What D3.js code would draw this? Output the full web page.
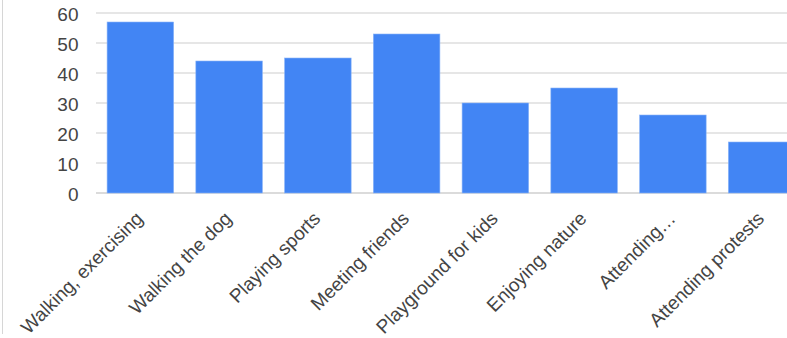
<!DOCTYPE html>
<html>
<head>
<meta charset="utf-8">
<script src="https://cdn.jsdelivr.net/npm/d3@7"></script>
<style>
  html, body { margin: 0; padding: 0; background: #fff; }
  svg { display: block; }
</style>
</head>
<body>
<svg id="chart" width="787" height="338"></svg>
<script>
// Activities and their counts
const categories = [
  "Walking, exercising",
  "Walking the dog",
  "Playing sports",
  "Meeting friends",
  "Playground for kids",
  "Enjoying nature",
  "Attending…",
  "Attending protests"
];
const values = [57, 44, 45, 53, 30, 35, 26, 17];
const yTicks = [0, 10, 20, 30, 40, 50, 60];

(function draw() {
  const svg = d3.select("#chart");
  const font = "'Liberation Sans', Arial, sans-serif";
  const fontSize = 19;

  // Plot area; the band range runs past the right edge of the view
  const plotLeft = 96, plotRight = 806, plotTop = 13, plotBottom = 193;

  const x = d3.scaleBand()
    .domain(categories)
    .range([plotLeft, plotRight])
    .paddingInner(0.25)
    .paddingOuter(0.125);

  const y = d3.scaleLinear().domain([0, 60]).range([plotBottom, plotTop]);

  // Left border of the panel
  svg.append("line")
    .attr("x1", 2.5).attr("x2", 2.5)
    .attr("y1", 0).attr("y2", 334)
    .attr("stroke", "#d6d6d6").attr("stroke-width", 1);

  // Gridlines
  svg.append("g")
    .selectAll("line")
    .data(yTicks)
    .join("line")
    .attr("x1", plotLeft).attr("x2", 787)
    .attr("y1", d => y(d)).attr("y2", d => y(d))
    .attr("stroke", d => d === 0 ? "#cfcfcf" : "#dedede")
    .attr("stroke-width", 1.5);

  // Y axis labels
  const yAxis = d3.axisLeft(y).tickValues(yTicks).tickSize(0).tickPadding(0);
  const yg = svg.append("g").attr("transform", "translate(78.5,0.5)").call(yAxis);
  yg.select(".domain").remove();
  yg.selectAll("text")
    .attr("font-family", font)
    .attr("font-size", fontSize)
    .attr("fill", "#444")
    .attr("dy", "0.35em");

  // Bars
  svg.append("g")
    .selectAll("rect")
    .data(values)
    .join("rect")
    .attr("x", (d, i) => x(categories[i]))
    .attr("y", d => y(d))
    .attr("width", x.bandwidth())
    .attr("height", d => y(0) - y(d))
    .attr("fill", "#4285f4")
    .attr("stroke", "#8ab4f8")
    .attr("stroke-width", 0.6);

  // Category labels, rotated
  svg.append("g")
    .selectAll("text")
    .data(categories)
    .join("text")
    .attr("transform", d => `translate(${x(d) + x.bandwidth() / 2 - 1},215) rotate(-45)`)
    .attr("text-anchor", "end")
    .attr("dy", "0.35em")
    .attr("font-family", font)
    .attr("font-size", fontSize)
    .attr("fill", "#444")
    .text(d => d);
})();
</script>
</body>
</html>
